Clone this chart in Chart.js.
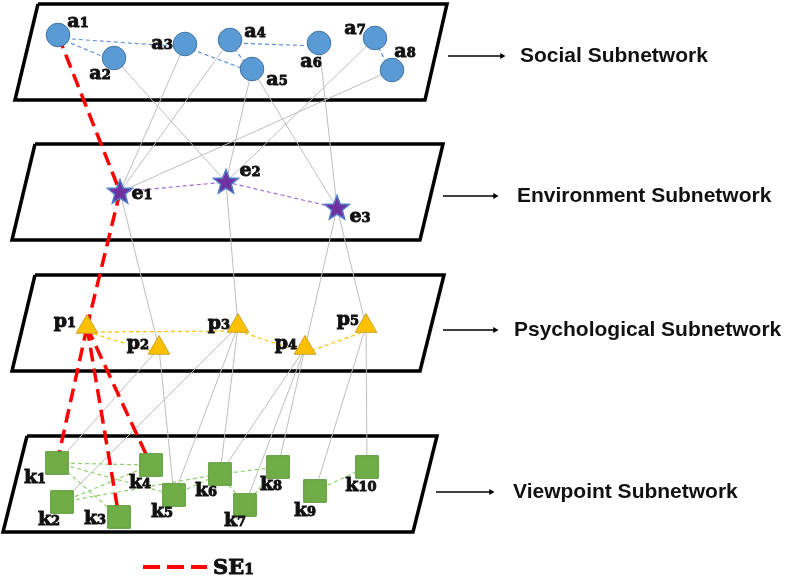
<!DOCTYPE html>
<html>
<head>
<meta charset="utf-8">
<script src="https://cdn.jsdelivr.net/npm/chart.js@4.4.1/dist/chart.umd.min.js"></script>
<style>
html, body { margin: 0; padding: 0; background: #fff; }
#wrap { width: 787px; height: 577px; }
</style>
</head>
<body>
<div id="wrap"><canvas id="net" width="787" height="577"></canvas></div>
<script>
// ---- nodes of each subnetwork ----
var socialNodes = ['a1', 'a2', 'a3', 'a4', 'a5', 'a6', 'a7', 'a8'];
var socialX = [58, 114, 185, 230, 252, 319, 375, 392];
var socialY = [35, 58, 44, 40, 69, 43, 38, 70];
var socialLabelX = [78, 100, 162, 255, 277, 311, 355, 405];
var socialLabelY = [22, 74, 44, 32, 80, 62, 29, 52];

var envNodes = ['e1', 'e2', 'e3'];
var envX = [120, 226, 337];
var envY = [192, 182, 208];
var envLabelX = [142, 250, 360];
var envLabelY = [194, 171, 217];

var psyNodes = ['p1', 'p2', 'p3', 'p4', 'p5'];
var psyX = [87, 159, 238, 305, 366];
var psyY = [327, 348, 326, 348, 326];
var psyLabelX = [65, 138, 219, 286, 348];
var psyLabelY = [322, 344, 324, 344, 320];

var viewNodes = ['k1', 'k2', 'k3', 'k4', 'k5', 'k6', 'k7', 'k8', 'k9', 'k10'];
var viewX = [57, 62, 119, 151, 174, 220, 245, 278, 315, 367];
var viewY = [463, 502, 517, 465, 495, 474, 505, 467, 491, 467];
var viewLabelX = [35, 49, 95, 140, 162, 206, 235, 271, 305, 361];
var viewLabelY = [478, 520, 519, 483, 512, 491, 521, 485, 511, 486];

// ---- links ----
var socialLinks = [['a1','a2'], ['a1','a3'], ['a3','a5'], ['a4','a5'], ['a4','a6'], ['a7','a8']];
var envLinks = [['e1','e2'], ['e2','e3']];
var psyLinks = [['p1','p2'], ['p1','p3'], ['p3','p4'], ['p4','p5']];
var viewLinks = [['k1','k4'], ['k1','k5'], ['k1','k3'], ['k2','k4'], ['k2','k6'], ['k5','k6'],
                 ['k6','k8'], ['k6','k7'], ['k7','k8'], ['k9','k10']];
var crossLinks = [['a2','e2'], ['a3','e1'], ['a4','e1'], ['a5','e2'], ['a5','e3'], ['a6','e3'], ['a7','e2'], ['a8','e1'],
                  ['e1','p2'], ['e2','p3'], ['e3','p4'], ['e3','p5'],
                  ['p2','k1'], ['p2','k5'], ['p3','k2'], ['p3','k5'], ['p3','k6'],
                  ['p4','k6'], ['p4','k7'], ['p4','k8'], ['p5','k9'], ['p5','k10']];
var se1Links = [['a1','e1'], ['e1','p1'], ['p1','k1'], ['p1','k3'], ['p1','k4']];

// ---- the four planes and their captions ----
var layerNames = ['Social Subnetwork', 'Environment Subnetwork', 'Psychological Subnetwork', 'Viewpoint Subnetwork'];
var planeTopY = [4, 144, 275, 436];
var planeBottomY = [100, 240, 371, 532];
var planeTopLeft = [38, 35, 35, 27];
var planeTopRight = [447, 443, 444, 437];
var planeBottomLeft = [15, 12, 12, 3];
var planeBottomRight = [425, 420, 420, 413];
var arrowFrom = [448, 443, 443, 436];
var arrowTo = [505, 498, 498, 494];
var arrowY = [56, 196, 330, 492];
var captionX = [520, 517, 514, 513];

// lookup of node positions
var pos = {};
function addNodes(ids, xs, ys) {
  ids.forEach(function (id, i) { pos[id] = { x: xs[i], y: ys[i] }; });
}
addNodes(socialNodes, socialX, socialY);
addNodes(envNodes, envX, envY);
addNodes(psyNodes, psyX, psyY);
addNodes(viewNodes, viewX, viewY);

// filled star image for the environment nodes
var star = document.createElement('canvas');
star.width = 30; star.height = 30;
(function () {
  var c = star.getContext('2d');
  c.beginPath();
  for (var i = 0; i < 10; i++) {
    var r = i % 2 === 0 ? 13 : 5.6;
    var a = -Math.PI / 2 + i * Math.PI / 5;
    var px = 15 + r * Math.cos(a), py = 15.5 + r * Math.sin(a);
    if (i === 0) c.moveTo(px, py); else c.lineTo(px, py);
  }
  c.closePath();
  c.fillStyle = '#7030A0';
  c.fill();
  c.lineWidth = 1.5;
  c.strokeStyle = '#4F7FC8';
  c.stroke();
})();

var datasets = [];

// links are drawn between node centres; dy shifts the ends (triangle bases)
function linkSets(links, color, width, dash, order, dy) {
  dy = dy || 0;
  links.forEach(function (l) {
    var p = pos[l[0]], q = pos[l[1]];
    datasets.push({
      data: [{ x: p.x, y: p.y + dy }, { x: q.x, y: q.y + dy }],
      showLine: true,
      borderColor: color,
      borderWidth: width,
      borderDash: dash,
      pointRadius: 0,
      clip: false,
      order: order
    });
  });
}

function nodeSet(ids, style, radius, fill, stroke, order) {
  datasets.push({
    data: ids.map(function (id) { return pos[id]; }),
    showLine: false,
    pointStyle: style,
    pointRadius: radius,
    pointHoverRadius: radius,
    backgroundColor: fill,
    borderColor: stroke,
    borderWidth: 1,
    clip: false,
    order: order
  });
}

// nodes on top
nodeSet(socialNodes, 'circle', 11.8, '#5B9BD5', '#41719C', 1);
nodeSet(envNodes, star, 12, '#7030A0', '#4F7FC8', 1);
nodeSet(psyNodes, 'triangle', 12.5, '#FFC000', '#C9A227', 1);
nodeSet(viewNodes, 'rect', 16, '#70AD47', '#5A9A3A', 1);

// SE1 chain, then links inside each plane, then links across planes
linkSets(se1Links, '#FF0000', 3.5, [14, 7], 2);
linkSets(socialLinks, '#5B8FDB', 1.2, [4, 3], 3, 3);
linkSets(envLinks, '#A36BD8', 1.2, [4, 3], 3);
linkSets(psyLinks, '#FFC000', 1.2, [4, 3], 3, 5);
linkSets(viewLinks, '#8FCF6A', 1.2, [4, 3], 3);
linkSets(crossLinks, '#BDBDBD', 1, [], 4);

// planes and arrows
layerNames.forEach(function (name, i) {
  datasets.push({
    data: [
      { x: planeTopLeft[i], y: planeTopY[i] },
      { x: planeTopRight[i], y: planeTopY[i] },
      { x: planeBottomRight[i], y: planeBottomY[i] },
      { x: planeBottomLeft[i], y: planeBottomY[i] },
      { x: planeTopLeft[i], y: planeTopY[i] }
    ],
    showLine: true,
    borderColor: '#000',
    borderWidth: 3.5,
    borderJoinStyle: 'miter',
    pointRadius: 0,
    clip: false,
    order: 5
  });
  datasets.push({
    data: [{ x: arrowFrom[i], y: arrowY[i] }, { x: arrowTo[i] - 3, y: arrowY[i] }],
    showLine: true,
    borderColor: '#000',
    borderWidth: 1.5,
    pointStyle: 'triangle',
    pointRotation: 90,
    pointRadius: [0, 3.5],
    pointHoverRadius: [0, 3.5],
    backgroundColor: '#000',
    pointBorderWidth: 0,
    clip: false,
    order: 5
  });
});

// letter plus a smaller index, a bit heavier than plain bold
function drawNodeLabel(ctx, text, cx, cy) {
  var letters = text.replace(/[0-9]+$/, '');
  var digits = text.slice(letters.length);
  ctx.font = 'bold 19px "DejaVu Serif"';
  var w1 = ctx.measureText(letters).width;
  ctx.font = 'bold 13px "DejaVu Serif"';
  var w2 = ctx.measureText(digits).width;
  var x0 = cx - (w1 + w2) / 2;
  var base = cy + 5;
  ctx.lineWidth = 0.9;
  ctx.strokeStyle = '#111';
  ctx.font = 'bold 19px "DejaVu Serif"';
  ctx.fillText(letters, x0, base);
  ctx.strokeText(letters, x0, base);
  ctx.font = 'bold 13px "DejaVu Serif"';
  ctx.fillText(digits, x0 + w1, base);
  ctx.strokeText(digits, x0 + w1, base);
}

var textPlugin = {
  id: 'texts',
  afterDatasetsDraw: function (chart) {
    var ctx = chart.ctx;
    var sx = chart.scales.x, sy = chart.scales.y;
    ctx.save();
    ctx.fillStyle = '#111';
    ctx.textAlign = 'left';
    ctx.textBaseline = 'alphabetic';
    function labels(ids, lx, ly) {
      ids.forEach(function (id, i) {
        drawNodeLabel(ctx, id, sx.getPixelForValue(lx[i]), sy.getPixelForValue(ly[i]));
      });
    }
    labels(socialNodes, socialLabelX, socialLabelY);
    labels(envNodes, envLabelX, envLabelY);
    labels(psyNodes, psyLabelX, psyLabelY);
    labels(viewNodes, viewLabelX, viewLabelY);

    // captions of the planes
    ctx.font = 'bold 21px "Liberation Sans"';
    ctx.textBaseline = 'middle';
    layerNames.forEach(function (name, i) {
      ctx.fillText(name, sx.getPixelForValue(captionX[i]), sy.getPixelForValue(arrowY[i]));
    });

    // legend for the SE1 chain
    var ly = sy.getPixelForValue(567);
    ctx.strokeStyle = '#FF0000';
    ctx.lineWidth = 4;
    ctx.setLineDash([17, 7]);
    ctx.beginPath();
    ctx.moveTo(sx.getPixelForValue(143), ly);
    ctx.lineTo(sx.getPixelForValue(207), ly);
    ctx.stroke();
    ctx.setLineDash([]);
    ctx.textBaseline = 'alphabetic';
    ctx.strokeStyle = '#111';
    ctx.lineWidth = 0.9;
    var lx = sx.getPixelForValue(213);
    ctx.font = 'bold 21px "DejaVu Serif"';
    ctx.fillText('SE', lx, ly + 7);
    ctx.strokeText('SE', lx, ly + 7);
    var w = ctx.measureText('SE').width;
    ctx.font = 'bold 14px "DejaVu Serif"';
    ctx.fillText('1', lx + w, ly + 7);
    ctx.strokeText('1', lx + w, ly + 7);
    ctx.restore();
  }
};

new Chart(document.getElementById('net'), {
  type: 'scatter',
  data: { datasets: datasets },
  options: {
    responsive: false,
    animation: false,
    devicePixelRatio: 1,
    events: [],
    layout: { padding: 0, autoPadding: false },
    elements: { line: { tension: 0 } },
    scales: {
      x: { type: 'linear', min: 0, max: 787, display: false },
      y: { type: 'linear', min: 0, max: 577, reverse: true, display: false }
    },
    plugins: {
      legend: { display: false },
      tooltip: { enabled: false }
    }
  },
  plugins: [textPlugin]
});
</script>
</body>
</html>
